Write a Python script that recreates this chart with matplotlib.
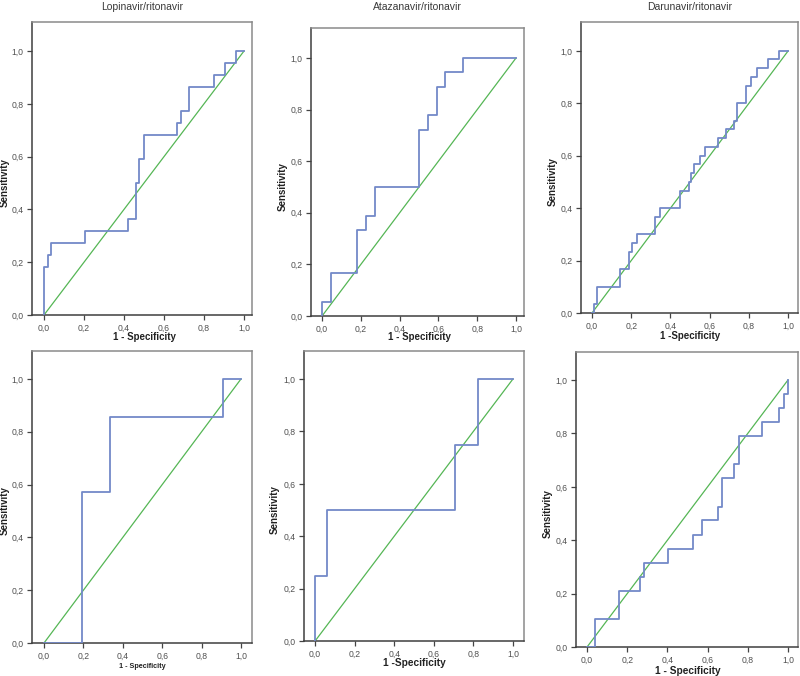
import matplotlib
matplotlib.use('Agg')
import matplotlib.pyplot as plt
from matplotlib.ticker import FuncFormatter

plt.rcParams['font.family'] = ['Liberation Sans', 'DejaVu Sans']

W, H = 800, 676

# ---------------- data (ROC points: 1-specificity, sensitivity) ----------------
titles = ["Lopinavir/ritonavir", "Atazanavir/ritonavir", "Darunavir/ritonavir", "", "", ""]
xlabels = ["1 - Specificity", "1 - Specificity", "1 -Specificity",
           "1 - Specificity", "1 -Specificity", "1 - Specificity"]
ylabel = "Sensitivity"
tick_values = [0.0, 0.2, 0.4, 0.6, 0.8, 1.0]

lpv_top_fpr = [0, 0, 0.02, 0.037, 0.206, 0.422, 0.46, 0.477, 0.5, 0.663, 0.683, 0.723, 0.849, 0.907, 0.958, 1.0]
lpv_top_tpr = [0, 0.182, 0.227, 0.273, 0.318, 0.364, 0.5, 0.591, 0.682, 0.727, 0.773, 0.864, 0.909, 0.955, 1.0, 1.0]

atv_top_fpr = [0, 0, 0.045, 0.182, 0.227, 0.273, 0.5, 0.545, 0.591, 0.636, 0.727, 1.0]
atv_top_tpr = [0, 0.056, 0.167, 0.333, 0.389, 0.5, 0.722, 0.778, 0.889, 0.944, 1.0, 1.0]

drv_top_fpr = [0, 0.01, 0.026, 0.143, 0.189, 0.203, 0.229, 0.319, 0.347, 0.449, 0.493, 0.507, 0.522,
               0.551, 0.578, 0.641, 0.683, 0.725, 0.737, 0.783, 0.812, 0.841, 0.898, 0.954, 1.0]
drv_top_tpr = [0, 0.033, 0.1, 0.167, 0.233, 0.267, 0.3, 0.367, 0.4, 0.467, 0.5, 0.533, 0.567,
               0.6, 0.633, 0.667, 0.7, 0.733, 0.8, 0.867, 0.9, 0.933, 0.967, 1.0, 1.0]

lpv_bot_fpr = [0, 0.191, 0.334, 0.907, 1.0]
lpv_bot_tpr = [0, 0.571, 0.857, 1.0, 1.0]

atv_bot_fpr = [0, 0, 0.059, 0.706, 0.824, 1.0]
atv_bot_tpr = [0, 0.25, 0.5, 0.75, 1.0, 1.0]

drv_bot_fpr = [0, 0.04, 0.161, 0.264, 0.285, 0.405, 0.529, 0.57, 0.652, 0.672, 0.73, 0.755, 0.872, 0.955, 0.98, 1.0]
drv_bot_tpr = [0, 0.105, 0.211, 0.263, 0.316, 0.368, 0.421, 0.474, 0.526, 0.632, 0.684, 0.789, 0.842, 0.895, 0.947, 1.0]

ref_line = [0.0, 1.0]

curves = [(lpv_top_fpr, lpv_top_tpr), (atv_top_fpr, atv_top_tpr), (drv_top_fpr, drv_top_tpr),
          (lpv_bot_fpr, lpv_bot_tpr), (atv_bot_fpr, atv_bot_tpr), (drv_bot_fpr, drv_bot_tpr)]

# ---------------- layout (pixel boxes: left, top, right, bottom) ----------------
boxes = [(32, 22, 252, 315), (311, 28, 524, 316), (581, 22, 798, 313),
         (32, 351, 252, 643), (304, 351, 524, 641), (576, 352, 798, 647)]
xlims = [(-0.06, 1.04), (-0.057, 1.041), (-0.056, 1.05),
         (-0.061, 1.056), (-0.056, 1.056), (-0.055, 1.05)]
ylims = [(0, 1.11), (0, 1.116), (0, 1.11), (0, 1.106), (0, 1.107), (0, 1.105)]
ylab_x = [5, 283, 553, 5, 275, 548]
xlab_y = [337, 337, 336, 667, 663, 671]
xlab_size = [7, 7, 7, 5.2, 7.3, 7.3]

BLUE = '#7389c8'
GREEN = '#55b655'
TXT = '#505050'

fig = plt.figure(figsize=(W / 100, H / 100), dpi=100)
fmt = FuncFormatter(lambda v, p: f"{v:.1f}".replace('.', ','))

for i, ((fpr, tpr), box) in enumerate(zip(curves, boxes)):
    l, t, r, b = box
    ax = fig.add_axes([l / W, 1 - b / H, (r - l) / W, (b - t) / H])
    ax.plot(ref_line, ref_line, color=GREEN, lw=0.9, zorder=2)
    ax.plot(fpr, tpr, drawstyle='steps-post', color=BLUE, lw=1.3, zorder=3)
    ax.set_xlim(*xlims[i])
    ax.set_ylim(*ylims[i])
    ax.set_xticks(tick_values)
    ax.set_yticks(tick_values)
    ax.xaxis.set_major_formatter(fmt)
    ax.yaxis.set_major_formatter(fmt)
    ax.tick_params(axis='both', direction='out', length=3.5, width=0.9, color='#444444',
                   labelsize=6.2, labelcolor=TXT, pad=2.5)
    for side, sp in ax.spines.items():
        sp.set_color('#3f3f3f' if side in ('left', 'bottom') else '#8a8a8a')
        sp.set_linewidth(1.1)

    # labels centred on the data range 0..1
    x_mid = l + (0.5 - xlims[i][0]) / (xlims[i][1] - xlims[i][0]) * (r - l)
    y_mid = b - (0.5 - ylims[i][0]) / (ylims[i][1] - ylims[i][0]) * (b - t)
    fig.text(x_mid / W, 1 - xlab_y[i] / H, xlabels[i], ha='center', va='center',
             fontsize=xlab_size[i], fontweight='bold', color='#222222')
    fig.text(ylab_x[i] / W, 1 - y_mid / H, ylabel, ha='center', va='center', rotation=90,
             fontsize=7, fontweight='bold', color='#222222')
    if titles[i]:
        fig.text((l + r) / 2 / W, 1 - 7 / H, titles[i], ha='center', va='center',
                 fontsize=7.5, color='#3a3a3a')

fig.savefig('out.png', dpi=100, facecolor='white')
